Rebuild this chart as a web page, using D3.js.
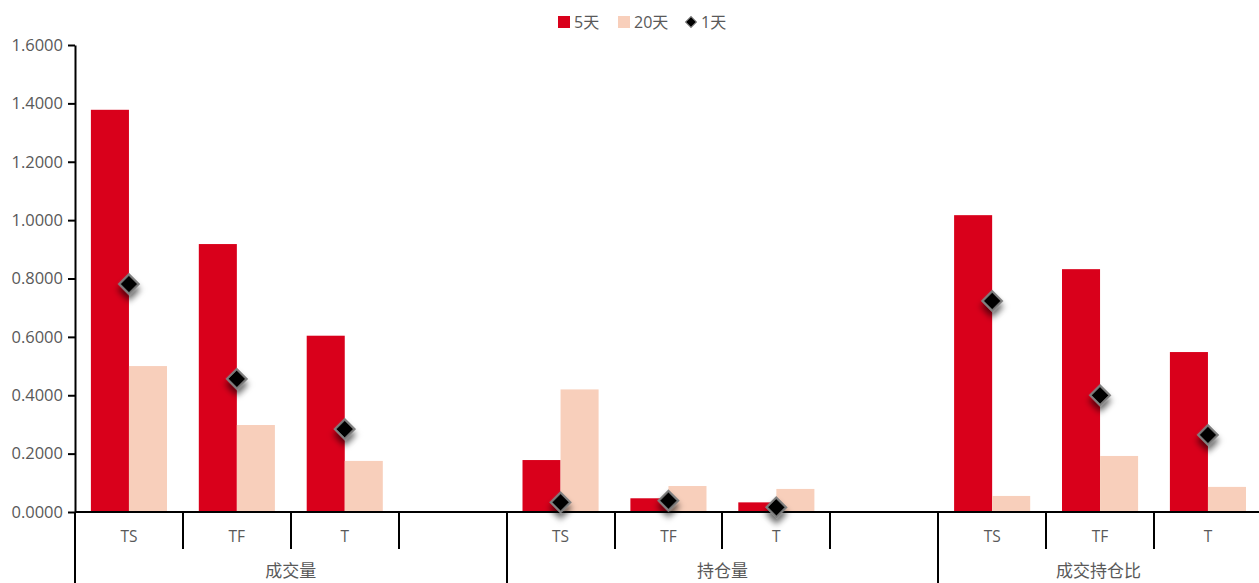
<!DOCTYPE html>
<html><head><meta charset="utf-8">
<script src="https://cdn.jsdelivr.net/npm/d3@7"></script>
<style>
html,body{margin:0;padding:0;background:#fff;overflow:hidden;}
text{font-family:"Open Sans","Noto Sans CJK SC",sans-serif;}
</style></head>
<body><svg id="chart" width="1259" height="583"></svg>
<script>
const groups = ["成交量", "持仓量", "成交持仓比"];
const contracts = ["TS", "TF", "T"];
const seriesNames = ["5天", "20天", "1天"];
const values5d  = [1.378, 0.918, 0.604, 0.178, 0.047, 0.033, 1.017, 0.832, 0.548];
const values20d = [0.500, 0.298, 0.175, 0.420, 0.089, 0.079, 0.055, 0.192, 0.086];
const values1d  = [0.781, 0.456, 0.284, 0.033, 0.039, 0.016, 0.723, 0.400, 0.264];
const yTicks = [0, 0.2, 0.4, 0.6, 0.8, 1.0, 1.2, 1.4, 1.6];
const colors = {"5天": "#d9001b", "20天": "#f8cfbb", "1天": "#000000"};

(function () {
const W = 1259, H = 583;
const mLeft = 75, mTop = 45, base = 512, slotW = 107.9;
const svg = d3.select("#chart");

const defs = svg.append("defs");
const f = defs.append("filter").attr("id", "shadow").attr("x", "-100%").attr("y", "-100%").attr("width", "300%").attr("height", "300%");
f.append("feDropShadow").attr("dx", 4).attr("dy", 4).attr("stdDeviation", 3).attr("flood-color", "#000").attr("flood-opacity", 0.6);

const slots = [];
groups.forEach((g, gi) => {
  contracts.forEach((c, ci) => slots.push({key: g + "|" + c, group: g, contract: c, idx: gi * 3 + ci}));
  slots.push({key: g + "|_", group: g, contract: null});
});

const x = d3.scaleBand().domain(slots.map(s => s.key)).range([mLeft, mLeft + slots.length * slotW]).padding(0);
const xi = d3.scaleBand().domain(["5天", "20天"]).range([0, x.bandwidth()]).paddingInner(0).paddingOuter(0.418);
const y = d3.scaleLinear().domain([0, 1.6]).range([base, mTop]);

const data = slots.filter(s => s.contract).map(s => ({
  key: s.key, "5天": values5d[s.idx], "20天": values20d[s.idx], "1天": values1d[s.idx]
}));

const bg = svg.append("g");
data.forEach(d => {
  ["5天", "20天"].forEach(sn => {
    bg.append("rect")
      .attr("x", x(d.key) + xi(sn))
      .attr("y", y(d[sn]))
      .attr("width", xi.bandwidth())
      .attr("height", y(0) - y(d[sn]))
      .attr("fill", colors[sn]);
  });
});

const yAxis = d3.axisLeft(y).tickValues(yTicks).tickFormat(d3.format(".4f")).tickSize(7).tickSizeOuter(0);
const ya = svg.append("g").attr("transform", `translate(${mLeft},0)`).call(yAxis);
ya.select(".domain").attr("stroke", "#000").attr("stroke-width", 2);
ya.selectAll(".tick line").attr("stroke", "#000").attr("stroke-width", 2);
ya.selectAll(".tick text").attr("fill", "#595959").attr("font-size", 16.5).attr("x", -12);
svg.append("line").attr("x1", mLeft).attr("x2", mLeft).attr("y1", base).attr("y2", H).attr("stroke", "#000").attr("stroke-width", 2);

svg.append("line").attr("x1", mLeft).attr("x2", W).attr("y1", y(0)).attr("y2", y(0)).attr("stroke", "#000").attr("stroke-width", 2);

slots.forEach((s, i) => {
  if (i === 0) return;
  const xx = Math.round(x(s.key));
  const isGroup = (i % 4 === 0);
  svg.append("line").attr("x1", xx).attr("x2", xx).attr("y1", base)
    .attr("y2", isGroup ? H : 549).attr("stroke", "#000").attr("stroke-width", 2);
});

slots.filter(s => s.contract).forEach(s => {
  svg.append("text").attr("x", x(s.key) + x.bandwidth() / 2).attr("y", 542)
    .attr("text-anchor", "middle").attr("font-size", 15.5).attr("fill", "#595959").text(s.contract);
});

groups.forEach((g, gi) => {
  const x0 = x(g + "|" + contracts[0]);
  const x1 = Math.min(x(g + "|_") + x.bandwidth(), W);
  svg.append("text").attr("x", (x0 + x1) / 2).attr("y", 577)
    .attr("text-anchor", "middle").attr("font-size", 17).attr("fill", "#595959")
    .attr("font-family", "'Noto Sans CJK SC',sans-serif").text(g);
});

const diamond = d3.symbol().type(d3.symbolSquare).size(200);
data.forEach(d => {
  svg.append("path").attr("d", diamond())
    .attr("transform", `translate(${x(d.key) + x.bandwidth() / 2},${y(d["1天"])}) rotate(45)`)
    .attr("fill", "#000").attr("stroke", "#808080").attr("stroke-width", 2)
    .attr("filter", "url(#shadow)");
});

const lg = svg.append("g").attr("fill", "#595959");
const legendItems = [
  {name: "5天", x: 558, type: "rect"},
  {name: "20天", x: 618, type: "rect"},
  {name: "1天", x: 685, type: "diamond"}
];
legendItems.forEach(it => {
  if (it.type === "rect") {
    lg.append("rect").attr("x", it.x).attr("y", 16).attr("width", 12).attr("height", 12).attr("fill", colors[it.name]);
  } else {
    lg.append("path").attr("d", d3.symbol().type(d3.symbolSquare).size(60)())
      .attr("transform", `translate(${it.x + 6},22) rotate(45)`).attr("fill", "#000").attr("stroke", "#808080").attr("stroke-width", 1);
  }
  lg.append("text").attr("x", it.x + 16).attr("y", 28).attr("fill", "#595959").attr("font-size", 16)
    .attr("font-family", "'Noto Sans CJK SC',sans-serif").text(it.name);
});
})();
</script></body></html>
